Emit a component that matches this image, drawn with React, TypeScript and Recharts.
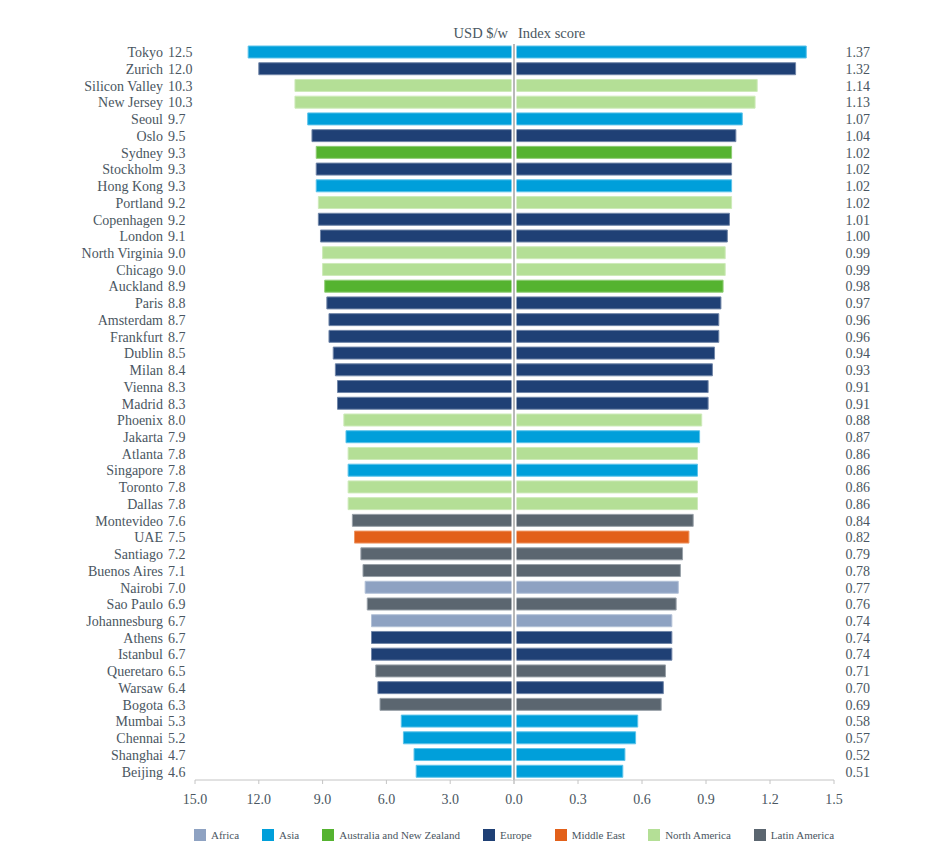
import { BarChart, Bar, XAxis, YAxis, Cell, ReferenceLine } from 'recharts';

const cities = [
  'Tokyo', 'Zurich', 'Silicon Valley', 'New Jersey', 'Seoul', 'Oslo', 'Sydney', 'Stockholm',
  'Hong Kong', 'Portland', 'Copenhagen', 'London', 'North Virginia', 'Chicago', 'Auckland',
  'Paris', 'Amsterdam', 'Frankfurt', 'Dublin', 'Milan', 'Vienna', 'Madrid', 'Phoenix',
  'Jakarta', 'Atlanta', 'Singapore', 'Toronto', 'Dallas', 'Montevideo', 'UAE', 'Santiago',
  'Buenos Aires', 'Nairobi', 'Sao Paulo', 'Johannesburg', 'Athens', 'Istanbul', 'Queretaro',
  'Warsaw', 'Bogota', 'Mumbai', 'Chennai', 'Shanghai', 'Beijing',
];

const usdPerWeek = [
  12.5, 12.0, 10.3, 10.3, 9.7, 9.5, 9.3, 9.3, 9.3, 9.2, 9.2, 9.1, 9.0, 9.0, 8.9, 8.8, 8.7,
  8.7, 8.5, 8.4, 8.3, 8.3, 8.0, 7.9, 7.8, 7.8, 7.8, 7.8, 7.6, 7.5, 7.2, 7.1, 7.0, 6.9, 6.7,
  6.7, 6.7, 6.5, 6.4, 6.3, 5.3, 5.2, 4.7, 4.6,
];

const indexScores = [
  1.37, 1.32, 1.14, 1.13, 1.07, 1.04, 1.02, 1.02, 1.02, 1.02, 1.01, 1.0, 0.99, 0.99, 0.98,
  0.97, 0.96, 0.96, 0.94, 0.93, 0.91, 0.91, 0.88, 0.87, 0.86, 0.86, 0.86, 0.86, 0.84, 0.82,
  0.79, 0.78, 0.77, 0.76, 0.74, 0.74, 0.74, 0.71, 0.7, 0.69, 0.58, 0.57, 0.52, 0.51,
];

const regions = [
  'Asia', 'Europe', 'North America', 'North America', 'Asia', 'Europe', 'Australia and New Zealand',
  'Europe', 'Asia', 'North America', 'Europe', 'Europe', 'North America', 'North America',
  'Australia and New Zealand', 'Europe', 'Europe', 'Europe', 'Europe', 'Europe', 'Europe',
  'Europe', 'North America', 'Asia', 'North America', 'Asia', 'North America', 'North America',
  'Latin America', 'Middle East', 'Latin America', 'Latin America', 'Africa', 'Latin America',
  'Africa', 'Europe', 'Europe', 'Latin America', 'Europe', 'Latin America', 'Asia', 'Asia',
  'Asia', 'Asia',
];

const legendOrder = [
  'Africa', 'Asia', 'Australia and New Zealand', 'Europe', 'Middle East', 'North America', 'Latin America',
];

const usdTicks = [0, 3, 6, 9, 12, 15];
const scoreTicks = [0, 0.3, 0.6, 0.9, 1.2, 1.5];

const regionFill: Record<string, string> = {
  Africa: '#8ea2c2',
  Asia: '#009fda',
  'Australia and New Zealand': '#55b330',
  Europe: '#1f4075',
  'Middle East': '#e2601a',
  'North America': '#b4df96',
  'Latin America': '#5b6670',
};

const regionStroke: Record<string, string> = {
  Africa: '#b3c1d7',
  Asia: '#5cc3ea',
  'Australia and New Zealand': '#8fcc74',
  Europe: '#7186a8',
  'Middle East': '#ee9764',
  'North America': '#cdeab9',
  'Latin America': '#98a0a8',
};

const rows = cities.map((city, i) => ({
  city,
  usd: usdPerWeek[i],
  score: indexScores[i],
  region: regions[i],
}));

const FONT = '"Liberation Serif", "Times New Roman", serif';
const TEXT = '#4a5661';
const AXIS = '#c4c4c4';
const HEIGHT = 860;
const MARGIN_TOP = 44;
const MARGIN_BOTTOM = 50;
const RIGHT_LEFT = 490;

function CityTick(props: any) {
  const { y, payload } = props;
  const i = cities.indexOf(payload.value);
  return (
    <g>
      <text x={163} y={y} dy="0.35em" textAnchor="end" fontFamily={FONT} fontSize={14} fill={TEXT}>
        {payload.value}
      </text>
      <text x={168} y={y} dy="0.35em" textAnchor="start" fontFamily={FONT} fontSize={14} fill={TEXT}>
        {usdPerWeek[i].toFixed(1)}
      </text>
    </g>
  );
}

function ScoreTick(props: any) {
  const { y, payload } = props;
  const i = cities.indexOf(payload.value);
  return (
    <text x={870 - RIGHT_LEFT} y={y} dy="0.35em" textAnchor="end" fontFamily={FONT} fontSize={14} fill={TEXT}>
      {indexScores[i].toFixed(2)}
    </text>
  );
}

const xTickStyle = { fill: TEXT, fontSize: 14, fontFamily: FONT };

export default function App() {
  return (
    <div style={{ position: 'absolute', left: 0, top: 0, width: 940, height: HEIGHT, background: '#fff', fontFamily: FONT }}>
      <div style={{ position: 'absolute', right: 940 - 508, top: 25, fontSize: 14.5, color: TEXT }}>USD $/w</div>
      <div style={{ position: 'absolute', left: 518, top: 25, fontSize: 14.5, color: TEXT }}>Index score</div>

      <div style={{ position: 'absolute', left: 0, top: 0 }}>
        <BarChart
          width={516}
          height={HEIGHT}
          data={rows}
          layout="vertical"
          margin={{ top: MARGIN_TOP, right: 2, bottom: MARGIN_BOTTOM, left: 0 }}
          barSize={12}
        >
          <XAxis
            type="number"
            dataKey="usd"
            domain={[0, 15]}
            ticks={usdTicks}
            reversed
            interval={0}
            height={30}
            tickFormatter={(v: number) => (v === 0 ? '' : v.toFixed(1))}
            tick={xTickStyle}
            tickSize={4}
            tickMargin={10}
            axisLine={{ stroke: AXIS }}
            tickLine={{ stroke: AXIS }}
          />
          <YAxis
            type="category"
            dataKey="city"
            width={195}
            interval={0}
            axisLine={false}
            tickLine={false}
            tick={<CityTick />}
          />
          <Bar dataKey="usd" isAnimationActive={false}>
            {rows.map((r) => (
              <Cell key={r.city} fill={regionFill[r.region]} stroke={regionStroke[r.region]} strokeWidth={1} />
            ))}
          </Bar>
        </BarChart>
      </div>

      <div style={{ position: 'absolute', left: RIGHT_LEFT, top: 0 }}>
        <BarChart
          width={940 - RIGHT_LEFT}
          height={HEIGHT}
          data={rows}
          layout="vertical"
          margin={{ top: MARGIN_TOP, right: 0, bottom: MARGIN_BOTTOM, left: 514 - RIGHT_LEFT }}
          barSize={12}
        >
          <XAxis
            type="number"
            dataKey="score"
            domain={[0, 1.5]}
            ticks={scoreTicks}
            interval={0}
            height={30}
            tickFormatter={(v: number) => v.toFixed(1)}
            tick={xTickStyle}
            tickSize={4}
            tickMargin={10}
            axisLine={{ stroke: AXIS }}
            tickLine={{ stroke: AXIS }}
          />
          <YAxis
            type="category"
            dataKey="city"
            orientation="right"
            width={106}
            interval={0}
            axisLine={false}
            tickLine={false}
            tick={<ScoreTick />}
          />
          <Bar dataKey="score" isAnimationActive={false}>
            {rows.map((r) => (
              <Cell key={r.city} fill={regionFill[r.region]} stroke={regionStroke[r.region]} strokeWidth={1} />
            ))}
          </Bar>
          <ReferenceLine x={0} stroke="#ffffff" strokeWidth={5} />
          <ReferenceLine x={0} stroke="#b9b9b9" strokeWidth={2} />
        </BarChart>
      </div>

      <div
        style={{
          position: 'absolute',
          left: 194,
          top: 829,
          display: 'flex',
          alignItems: 'center',
          gap: 23,
          fontSize: 11,
          color: TEXT,
          whiteSpace: 'nowrap',
        }}
      >
        {legendOrder.map((name) => (
          <div key={name} style={{ display: 'flex', alignItems: 'center' }}>
            <span style={{ display: 'inline-block', width: 12, height: 12, background: regionFill[name], marginRight: 5 }} />
            <span>{name}</span>
          </div>
        ))}
      </div>
    </div>
  );
}
